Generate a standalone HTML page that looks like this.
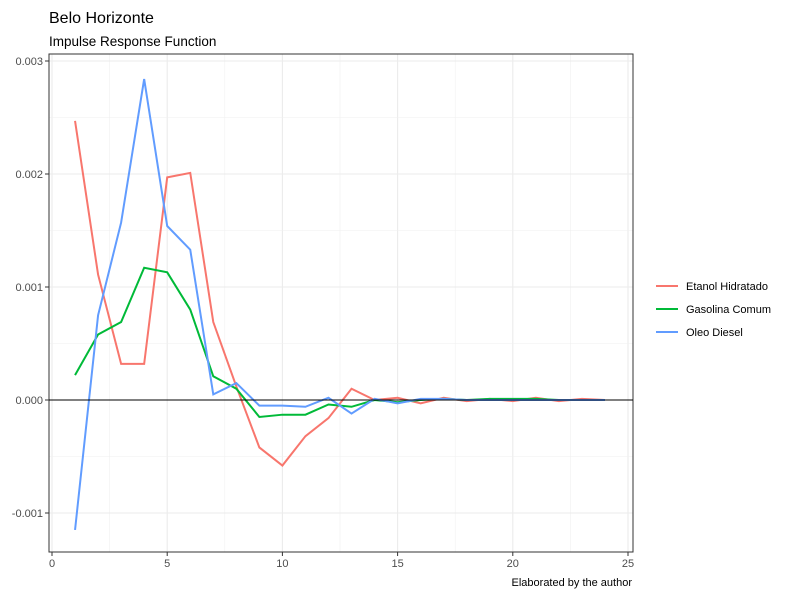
<!DOCTYPE html>
<html><head><meta charset="utf-8"><style>
body{margin:0;background:#fff;font-family:"Liberation Sans",Arial,sans-serif}
svg text{font-family:"Liberation Sans",Arial,sans-serif}
</style></head><body>
<svg id="c" width="800" height="600" xmlns="http://www.w3.org/2000/svg">
<rect width="800" height="600" fill="#fff"/>
<text x="49" y="23" font-size="16" fill="#000">Belo Horizonte</text>
<text x="49" y="46" font-size="13.5" fill="#000">Impulse Response Function</text>
<g id="grid"></g><g id="axes"></g><g id="lines"></g>
<text x="632" y="586" font-size="11" text-anchor="end" fill="#000">Elaborated by the author</text>
<g id="legend"></g>
</svg>
<script>
const periods=[1,2,3,4,5,6,7,8,9,10,11,12,13,14,15,16,17,18,19,20,21,22,23,24];
const etanol=[0.00247,0.00111,0.00032,0.00032,0.00197,0.00201,0.00069,0.00012,-0.00042,-0.00058,-0.00032,-0.00016,0.0001,0.0,0.00002,-0.00003,0.00002,-0.00001,0.00001,-0.00001,0.00002,-0.00001,0.00001,0.0];
const gasolina=[0.00022,0.00058,0.00069,0.00117,0.00113,0.0008,0.00021,0.0001,-0.00015,-0.00013,-0.00013,-0.00004,-0.00006,0.0,-0.00002,0.0,0.00001,0.0,0.00001,0.00001,0.00001,0.0,0.0,0.0];
const oleo=[-0.00115,0.00075,0.00157,0.00284,0.00154,0.00133,0.00005,0.00015,-0.00005,-0.00005,-0.00006,0.00002,-0.00012,0.00001,-0.00003,0.00001,0.00001,0.0,0.0,0.0,0.0,0.0,0.0,0.0];
const xTicks=[0,5,10,15,20,25];
const yTicks=[-0.001,0,0.001,0.002,0.003];
const yTickLabels=["-0.001","0.000","0.001","0.002","0.003"];
const seriesNames=["Etanol Hidratado","Gasolina Comum","Oleo Diesel"];
const colors=["#F8766D","#00BA38","#619CFF"];
const L=49,R=633,T=54,B=552;
const X=v=>52+v*23.04;
const Y=v=>400-v*113000;
const NS="http://www.w3.org/2000/svg";
function mk(p,tag,a){const e=document.createElementNS(NS,tag);for(const k in a)e.setAttribute(k,a[k]);p.appendChild(e);return e;}
const g=document.getElementById('grid'),ax=document.getElementById('axes'),ln=document.getElementById('lines'),lg=document.getElementById('legend');
for(let i=0;i<xTicks.length;i++){
 if(i<xTicks.length-1){const m=mk(g,'line',{x1:X(xTicks[i]+2.5),x2:X(xTicks[i]+2.5),y1:T,y2:B,stroke:'#f0f0f0','stroke-width':0.6});
 }
 const l=mk(g,'line',{x1:X(xTicks[i]),x2:X(xTicks[i]),y1:T,y2:B,stroke:'#ebebeb','stroke-width':1.1});
 
 const t=mk(ax,'line',{x1:X(xTicks[i]),x2:X(xTicks[i]),y1:B,y2:B+4,stroke:'#333'});
 
 const tx=mk(ax,'text',{x:X(xTicks[i]),y:B+15,'font-size':11,'text-anchor':'middle',fill:'#4d4d4d'});tx.textContent=xTicks[i];
 
}
for(let i=0;i<yTicks.length;i++){
 const mv=yTicks[i]+0.0005;
 if(Y(mv)>T){const m=mk(g,'line',{x1:L,x2:R,y1:Y(mv),y2:Y(mv),stroke:'#f0f0f0','stroke-width':0.6});
 }
 const l=mk(g,'line',{x1:L,x2:R,y1:Y(yTicks[i]),y2:Y(yTicks[i]),stroke:'#ebebeb','stroke-width':1.1});
 
 const t=mk(ax,'line',{x1:L-4,x2:L,y1:Y(yTicks[i]),y2:Y(yTicks[i]),stroke:'#333'});
 
 const tx=mk(ax,'text',{x:L-6,y:Y(yTicks[i])+4,'font-size':11,'text-anchor':'end',fill:'#4d4d4d'});tx.textContent=yTickLabels[i];
 
}
const fr=mk(ax,'rect',{x:L,y:T,width:R-L,height:B-T,fill:'none',stroke:'#333','stroke-width':1});

const data=[etanol,gasolina,oleo];
data.forEach((s,k)=>{
 const p=mk(ln,'polyline',{points:s.map((v,i)=>X(periods[i])+','+Y(v)).join(' '),fill:'none',stroke:colors[k],'stroke-width':2});
 
});
const z=mk(ln,'line',{x1:L,x2:R,y1:Y(0),y2:Y(0),stroke:'#000','stroke-width':1});

seriesNames.forEach((n,k)=>{
 const y=286+k*23;
 const l=mk(lg,'line',{x1:656,x2:678,y1:y,y2:y,stroke:colors[k],'stroke-width':2});
 
 const t=mk(lg,'text',{x:686,y:y+4,'font-size':11,fill:'#000'});t.textContent=n;
 
});
</script>
</body></html>
